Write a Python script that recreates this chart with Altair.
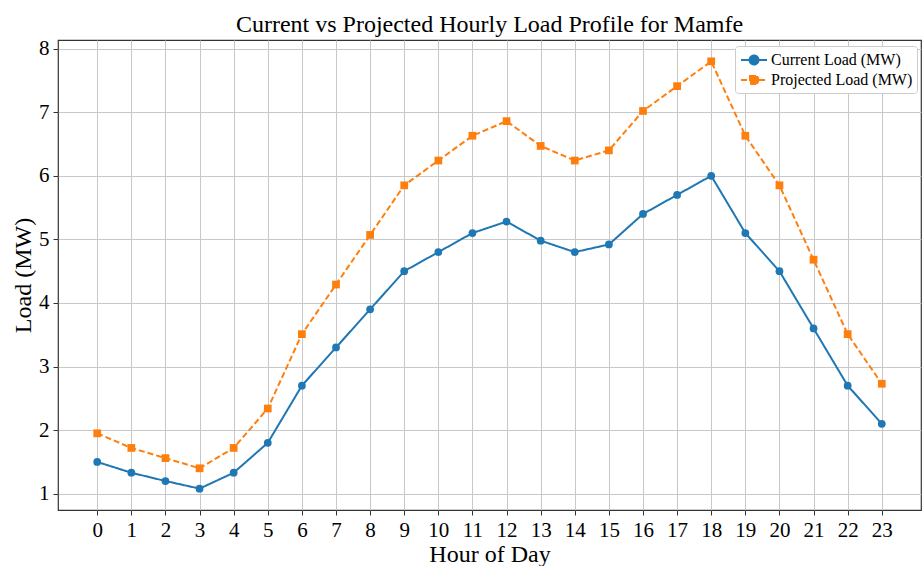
import altair as alt
import pandas as pd

hours = list(range(24))
current = [1.50, 1.33, 1.20, 1.08, 1.33, 1.80, 2.70, 3.30, 3.90, 4.50, 4.80, 5.10,
           5.28, 4.98, 4.80, 4.92, 5.40, 5.70, 6.00, 5.10, 4.50, 3.60, 2.70, 2.10]
projected = [1.95, 1.72, 1.56, 1.40, 1.72, 2.34, 3.51, 4.29, 5.07, 5.85, 6.24, 6.63,
             6.86, 6.47, 6.24, 6.40, 7.02, 7.41, 7.80, 6.63, 5.85, 4.68, 3.51, 2.73]
series_names = ["Current Load (MW)", "Projected Load (MW)"]
colors = ["#1f77b4", "#ff7f0e"]
y_ticks = [1, 2, 3, 4, 5, 6, 7, 8]

rows = []
for name, vals in zip(series_names, [current, projected]):
    for h, v in zip(hours, vals):
        rows.append({"hour": h, "load": v, "series": name})
df = pd.DataFrame(rows)

FONT = "Liberation Serif"

# legend glyphs: short line with marker in the middle
cur_sym = "M-0.89,0H2.0M1.06,0A0.5,0.5,0,1,1,0.06,0A0.5,0.5,0,1,1,1.06,0Z"
proj_sym = "M-0.89,0H2.0M0.11,-0.45H1.01V0.45H0.11Z"

legend = alt.Legend(
    title=None, orient="none", legendX=677, legendY=6,
    labelFont=FONT, labelFontSize=16, labelColor="black",
    symbolSize=324, symbolStrokeWidth=2, symbolOpacity=1,
    padding=4, strokeColor="#cccccc", fillColor="white", cornerRadius=3,
    rowPadding=1, labelOffset=12,
)

x = alt.X("hour:Q", scale=alt.Scale(domain=[-1.15, 24.15], nice=False, zero=False),
          axis=alt.Axis(values=hours, title="Hour of Day", format="d"))
y = alt.Y("load:Q", scale=alt.Scale(domain=[0.744, 8.136], nice=False, zero=False),
          axis=alt.Axis(values=y_ticks, title="Load (MW)", format="d"))
color_nl = alt.Color("series:N", scale=alt.Scale(domain=series_names, range=colors), legend=None)
dash_scale = alt.Scale(domain=series_names, range=[[1, 0], [6, 3]])

legend_layer = alt.Chart(df).transform_filter("datum.hour < 0").mark_point(
    filled=True, opacity=1, size=324, strokeWidth=2
).encode(
    x=x, y=y,
    fill=alt.Fill("series:N", scale=alt.Scale(domain=series_names, range=colors), legend=legend),
    stroke=alt.Stroke("series:N", scale=alt.Scale(domain=series_names, range=colors), legend=legend),
    shape=alt.Shape("series:N", scale=alt.Scale(domain=series_names, range=[cur_sym, proj_sym]), legend=legend),
    strokeDash=alt.StrokeDash("series:N", scale=dash_scale, legend=legend),
)

lines = alt.Chart(df).mark_line(strokeWidth=2).encode(
    x=x, y=y, color=color_nl,
    strokeDash=alt.StrokeDash("series:N", scale=dash_scale, legend=legend),
)
pts_cur = alt.Chart(df).transform_filter(
    alt.datum.series == series_names[0]
).mark_point(filled=True, opacity=1, size=60, shape="circle").encode(x=x, y=y, color=color_nl)
pts_proj = alt.Chart(df).transform_filter(
    alt.datum.series == series_names[1]
).mark_point(filled=True, opacity=1, size=60, shape="square").encode(x=x, y=y, color=color_nl)

chart = alt.layer(legend_layer, lines, pts_cur, pts_proj).properties(
    width=863, height=470,
    padding={"left": 58, "top": 40, "right": 3, "bottom": 56},
    autosize=alt.AutoSizeParams(type="none"),
    title=alt.TitleParams("Current vs Projected Hourly Load Profile for Mamfe",
                          font=FONT, fontSize=24, fontWeight="normal", color="black",
                          anchor="middle", offset=1),
).configure_view(stroke="#333333", strokeWidth=1.2).configure_axis(
    domain=False, grid=True, gridColor="#c8c8c8", gridWidth=1,
    tickColor="#333333", tickSize=5, tickWidth=1,
    labelFont=FONT, labelFontSize=21, labelColor="black", labelPadding=4,
    titleFont=FONT, titleFontSize=24, titleFontWeight="normal", titleColor="black",
).configure_axisX(labelAngle=0, titlePadding=2).configure_axisY(titlePadding=3)

chart.save("out.html", embed_options={"renderer": "svg", "actions": False})
